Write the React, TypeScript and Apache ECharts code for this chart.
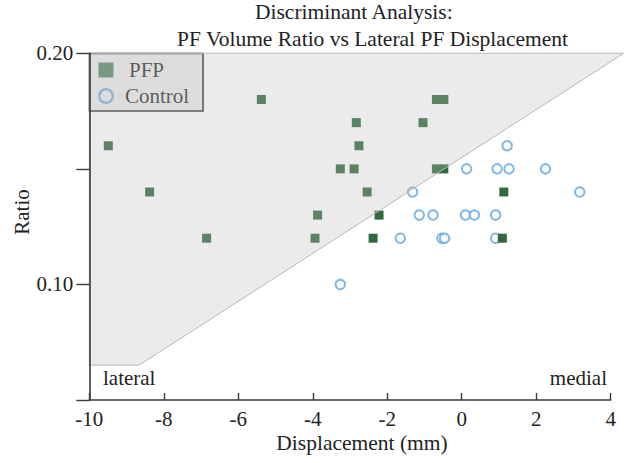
import React, { useEffect, useRef } from "react";
import * as echarts from "echarts";

// Data
const pfpX = [-9.49, -5.38, -8.38, -6.85, -2.83, -1.04, -0.68, -0.48, -2.76, -3.26, -2.89, -0.68, -0.48, -2.54, -3.87, -2.22, -3.94, -2.38, 1.13, 1.09];
const pfpY = [0.16, 0.18, 0.14, 0.12, 0.17, 0.17, 0.18, 0.18, 0.16, 0.15, 0.15, 0.15, 0.15, 0.14, 0.13, 0.13, 0.12, 0.12, 0.14, 0.12];
const controlX = [1.22, 0.13, 0.95, 1.27, 2.25, -1.32, 3.17, -1.14, -0.77, 0.1, 0.34, 0.91, -1.65, -0.53, -0.46, 0.91, -3.26];
const controlY = [0.16, 0.15, 0.15, 0.15, 0.15, 0.14, 0.14, 0.13, 0.13, 0.13, 0.13, 0.13, 0.12, 0.12, 0.12, 0.12, 0.1];
// discriminant (lateral) region polygon, data coordinates
const shadeX = [-10, 4.35, -8.66, -10];
const shadeY = [0.2, 0.2, 0.0651, 0.0651];
const yLabeled = [0.1, 0.2];

const FONT = "'Liberation Serif', 'Times New Roman', serif";

export default function App() {
  const ref = useRef<HTMLDivElement>(null);
  useEffect(() => {
    const chart = echarts.init(ref.current!, null, { renderer: "svg" });
    const option: any = {
      animation: false,
      backgroundColor: "#ffffff",
      textStyle: { fontFamily: FONT },
      grid: { left: 89.3, right: 20.3, top: 53.3, bottom: 63 },
      xAxis: {
        type: "value",
        min: -10,
        max: 4,
        interval: 2,
        z: 10,
        splitLine: { show: false },
        axisLine: { show: true, onZero: false, lineStyle: { color: "#3a3a3a", width: 1.6 } },
        axisTick: { show: true, inside: true, length: 7, lineStyle: { color: "#3a3a3a", width: 1.4 } },
        axisLabel: { fontFamily: FONT, fontSize: 21, color: "#222", margin: 8, formatter: (v: number) => String(v) },
      },
      yAxis: {
        type: "value",
        min: 0.05,
        max: 0.2,
        interval: 0.05,
        z: 10,
        splitLine: { show: false },
        axisLine: { show: true, onZero: false, lineStyle: { color: "#3a3a3a", width: 1.6 } },
        axisTick: { show: true, inside: false, length: 13, lineStyle: { color: "#3a3a3a", width: 1.4 } },
        axisLabel: {
          fontFamily: FONT,
          fontSize: 21,
          color: "#222",
          margin: 16,
          formatter: (v: number) => {
            const hit = yLabeled.find((t) => Math.abs(t - v) < 1e-9);
            return hit !== undefined ? hit.toFixed(2) : "";
          },
        },
      },
      series: [
        {
          name: "Control",
          type: "scatter",
          z: 2,
          symbol: "emptyCircle",
          symbolSize: 9.5,
          itemStyle: { color: "#5ca6e0", borderColor: "#5ca6e0", borderWidth: 2.8 },
          data: controlX.map((x, i) => [x, controlY[i]]),
        },
        {
          name: "PFP",
          type: "scatter",
          z: 3,
          symbol: "rect",
          symbolSize: 9,
          itemStyle: { color: "#2f6a3c", opacity: 1 },
          data: pfpX.map((x, i) => [x, pfpY[i]]),
        },
        {
          name: "region",
          type: "custom",
          z: 5,
          silent: true,
          clip: false,
          data: [[0, 0]],
          renderItem: (_p: any, api: any) => {
            const pts = shadeX.map((x, i) => api.coord([x, shadeY[i]]));
            return {
              type: "polygon",
              shape: { points: pts },
              style: { fill: "rgba(190,190,190,0.306)", stroke: "#b8b8b8", lineWidth: 1 },
            };
          },
        },
      ],
      graphic: [
        { type: "text", left: 255, top: 1, style: { text: "Discriminant Analysis:", font: `21.5px ${FONT}`, fill: "#222" }, z: 100 },
        { type: "text", left: 177, top: 28, style: { text: "PF Volume Ratio vs Lateral PF Displacement", font: `21.5px ${FONT}`, fill: "#222" }, z: 100 },
        { type: "text", x: 362, y: 443, style: { text: "Displacement (mm)", font: `21.5px ${FONT}`, fill: "#222", align: "center", verticalAlign: "middle" }, z: 100 },
        { type: "text", x: 22, y: 212, rotation: Math.PI / 2, style: { text: "Ratio", font: `21px ${FONT}`, fill: "#222", align: "center", verticalAlign: "middle" }, z: 100 },
        { type: "text", x: 103, y: 378, style: { text: "lateral", font: `21px ${FONT}`, fill: "#222", align: "left", verticalAlign: "middle" }, z: 100 },
        { type: "text", x: 607, y: 378, style: { text: "medial", font: `21px ${FONT}`, fill: "#222", align: "right", verticalAlign: "middle" }, z: 100 },
        {
          type: "group",
          z: 100,
          children: [
            { type: "rect", shape: { x: 89.5, y: 53.5, width: 113.5, height: 57.5 }, style: { fill: "#ebebeb", stroke: "#333", lineWidth: 1.6 } },
            { type: "rect", shape: { x: 98.5, y: 62.5, width: 15, height: 15 }, style: { fill: "#5b8866" } },
            { type: "text", x: 129, y: 70, style: { text: "PFP", font: `21px ${FONT}`, fill: "#333", verticalAlign: "middle" } },
            { type: "circle", shape: { cx: 106, cy: 96, r: 6.8 }, style: { fill: "none", stroke: "#7db3de", lineWidth: 2.4 } },
            { type: "text", x: 125, y: 96, style: { text: "Control", font: `21px ${FONT}`, fill: "#333", verticalAlign: "middle" } },
          ],
        },
      ],
    };
    chart.setOption(option);
    return () => chart.dispose();
  }, []);
  return <div ref={ref} style={{ width: 631, height: 463, position: "absolute", left: 0, top: 0 }} />;
}
